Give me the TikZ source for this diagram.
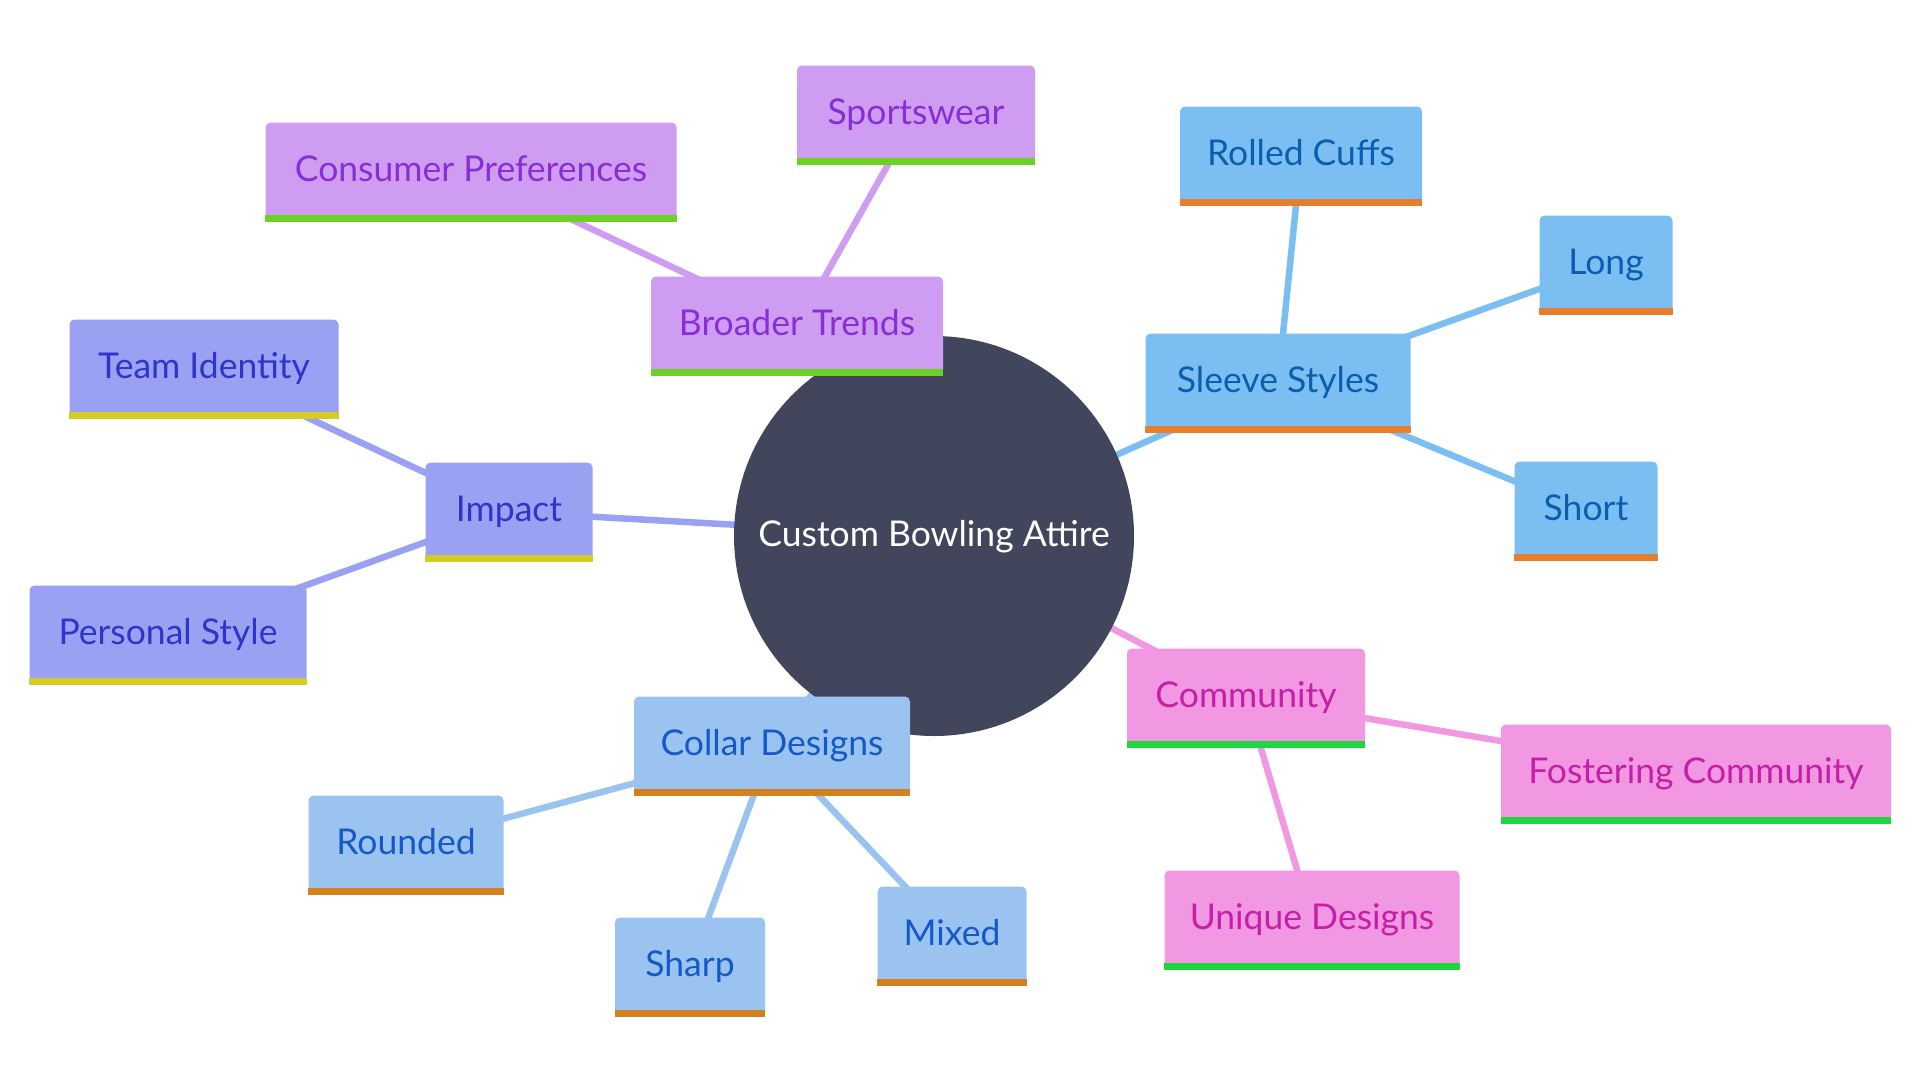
\documentclass[tikz,border=0pt]{standalone}
\usepackage{fontspec}
\setmainfont{Lato}
\usetikzlibrary{backgrounds}

\definecolor{hubFill}{RGB}{65,70,93}
\definecolor{trendFill}{RGB}{206,157,242}
\definecolor{trendText}{RGB}{137,45,214}
\definecolor{trendBar}{RGB}{106,210,36}
\definecolor{sleeveFill}{RGB}{123,191,242}
\definecolor{sleeveText}{RGB}{10,94,176}
\definecolor{sleeveBar}{RGB}{230,126,46}
\definecolor{impactFill}{RGB}{154,160,242}
\definecolor{impactText}{RGB}{46,53,200}
\definecolor{impactBar}{RGB}{214,203,36}
\definecolor{commFill}{RGB}{242,152,226}
\definecolor{commText}{RGB}{196,31,166}
\definecolor{commBar}{RGB}{31,214,62}
\definecolor{collarFill}{RGB}{155,195,240}
\definecolor{collarText}{RGB}{20,89,199}
\definecolor{collarBar}{RGB}{213,128,31}

\begin{document}
\begin{tikzpicture}[x=1pt, y=-1pt, font=\fontsize{35.5}{42}\selectfont,
  box/.style={rectangle, rounded corners=5pt, minimum height=99pt, inner sep=0pt,
    text height=26pt, text depth=8pt},
  trendbox/.style={box, fill=trendFill, text=trendText},
  sleevebox/.style={box, fill=sleeveFill, text=sleeveText},
  impactbox/.style={box, fill=impactFill, text=impactText},
  commbox/.style={box, fill=commFill, text=commText},
  collarbox/.style={box, fill=collarFill, text=collarText},
  link/.style={line width=6.5pt}]

\useasboundingbox (0,0) rectangle (1920,1080);

% Root
\node[circle, fill=hubFill, text=white, minimum size=400pt, inner sep=0pt,
  text height=26pt, text depth=6pt] (hub) at (934,536) {Custom Bowling Attire};

% Broader trends
\node[trendbox, minimum width=292pt] (trends) at (797,326) {Broader Trends};
\node[trendbox, minimum width=411pt] (cons) at (471,172) {Consumer Preferences};
\node[trendbox, minimum width=238pt] (sport) at (916,115) {Sportswear};

% Sleeve styles
\node[sleevebox, minimum width=265pt] (sleeve) at (1278,383) {Sleeve Styles};
\node[sleevebox, minimum width=242pt] (cuffs) at (1301,156) {Rolled Cuffs};
\node[sleevebox, minimum width=133pt] (long) at (1606,265) {Long};
\node[sleevebox, minimum width=143pt] (short) at (1586,511) {Short};

% Impact
\node[impactbox, minimum width=167pt] (impact) at (509,512) {Impact};
\node[impactbox, minimum width=269pt] (team) at (204,369) {Team Identity};
\node[impactbox, minimum width=277pt] (personal) at (168,635) {Personal Style};

% Community
\node[commbox, minimum width=238pt] (comm) at (1246,698) {Community};
\node[commbox, minimum width=390pt] (foster) at (1696,774) {Fostering Community};
\node[commbox, minimum width=295pt] (unique) at (1312,920) {Unique Designs};

% Collar designs
\node[collarbox, minimum width=276pt] (collar) at (772,746) {Collar Designs};
\node[collarbox, minimum width=195pt] (rounded) at (406,845) {Rounded};
\node[collarbox, minimum width=150pt] (sharp) at (690,967) {Sharp};
\node[collarbox, minimum width=149pt] (mixed) at (952,936) {Mixed};

% Bottom bars
\foreach \n/\c in {trends/trendBar, cons/trendBar, sport/trendBar,
    sleeve/sleeveBar, cuffs/sleeveBar, long/sleeveBar, short/sleeveBar,
    impact/impactBar, team/impactBar, personal/impactBar,
    comm/commBar, foster/commBar, unique/commBar,
    collar/collarBar, rounded/collarBar, sharp/collarBar, mixed/collarBar}
  \fill[\c] (\n.south west) rectangle ([yshift=7pt]\n.south east);

% Links
\begin{pgfonlayer}{background}
\draw[link, trendFill] (hub.center) -- (trends.center);
\draw[link, trendFill] (trends.center) -- (cons.center);
\draw[link, trendFill] (trends.center) -- (sport.center);
\draw[link, sleeveFill] (hub.center) -- (sleeve.center);
\draw[link, sleeveFill] (sleeve.center) -- (cuffs.center);
\draw[link, sleeveFill] (sleeve.center) -- (long.center);
\draw[link, sleeveFill] (sleeve.center) -- (short.center);
\draw[link, impactFill] (hub.center) -- (impact.center);
\draw[link, impactFill] (impact.center) -- (team.center);
\draw[link, impactFill] (impact.center) -- (personal.center);
\draw[link, commFill] (hub.center) -- (comm.center);
\draw[link, commFill] (comm.center) -- (foster.center);
\draw[link, commFill] (comm.center) -- (unique.center);
\draw[link, collarFill] (hub.center) -- (collar.center);
\draw[link, collarFill] (collar.center) -- (rounded.center);
\draw[link, collarFill] (collar.center) -- (sharp.center);
\draw[link, collarFill] (collar.center) -- (mixed.center);
\end{pgfonlayer}

\end{tikzpicture}
\end{document}
